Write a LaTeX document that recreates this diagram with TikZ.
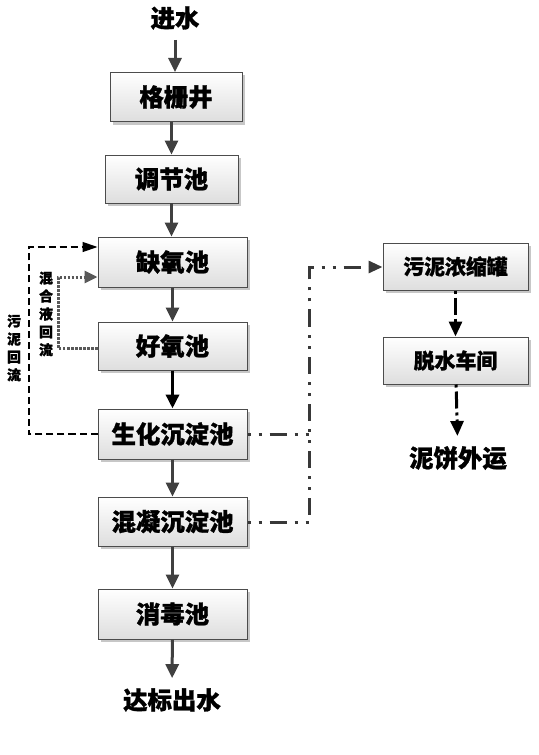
\documentclass[tikz,border=0pt]{standalone}
\usepackage{fontspec}
\newfontfamily\cjk{Noto Sans CJK SC}[BoldFeatures={FakeBold=1.2}]
\usepackage{tikz}
\usetikzlibrary{arrows.meta,shadows}

\tikzset{
  pool/.style={draw=black!70, line width=1bp, top color=white, bottom color=black!13,
    drop shadow={shadow xshift=3bp, shadow yshift=-3bp, fill=black!22, opacity=1},
    minimum width=149bp, minimum height=49bp, inner sep=0pt,
    font=\cjk\bfseries\fontsize{24.5}{24.5}\selectfont},
  tank/.style={pool, minimum width=145bp, minimum height=47bp, font=\cjk\bfseries\fontsize{21}{21}\selectfont},
  ends/.style={inner sep=10bp, font=\cjk\bfseries\fontsize{24.5}{24.5}\selectfont},
  side/.style={align=center, inner sep=0pt, font=\cjk\bfseries\fontsize{14}{18}\selectfont},
  flow/.style={draw=black!75, line width=3bp, -{Triangle[length=14bp, width=13bp]}},
  sludge/.style={draw=black!78, line width=3bp, dash pattern=on 17bp off 8bp on 3bp off 8bp on 3bp off 8bp, dash phase=25bp},
  cake/.style={draw=black, line width=3bp, dash pattern=on 3bp off 4bp on 17bp off 4bp, -{Triangle[length=15bp, width=13bp]}},
  retsl/.style={draw=black, line width=1.3bp, dash pattern=on 7bp off 4bp, -{Triangle[length=15bp, width=10bp]}},
  retml/.style={draw=black!65, line width=3bp, dash pattern=on 2.5bp off 1.5bp, -{Triangle[length=13bp, width=12bp]}}
}

\begin{document}
\begin{tikzpicture}[x=1bp, y=-1bp]
  \useasboundingbox (0,0) rectangle (539,755);
  % main line
  \node[ends] (in) at (175,18) {进水};
  \node[pool, minimum width=132bp] (gs) at (176,97) {格栅井};
  \node[pool, minimum width=133bp, minimum height=48bp] (tj) at (171.5,179) {调节池};
  \node[pool, minimum height=50bp] (qy) at (172.5,262) {缺氧池};
  \node[pool, minimum height=48bp] (hy) at (172.5,346) {好氧池};
  \node[pool, minimum height=50bp] (sh) at (172.5,434) {生化沉淀池};
  \node[pool] (hn) at (172.5,521.5) {混凝沉淀池};
  \node[pool, minimum height=50bp] (xd) at (172.5,614) {消毒池};
  \node[ends] (out) at (172,700) {达标出水};
  % sludge line
  \node[tank] (nsg) at (455.5,266.5) {污泥浓缩罐};
  \node[tank] (ts) at (455.5,360.5) {脱水车间};
  \node[ends] (nb) at (458,458) {泥饼外运};
  \node[side] (lsl) at (14,348) {污\\泥\\回\\流};
  \node[side] (lml) at (46,314) {混\\合\\液\\回\\流};

  \draw[flow] (in) -- (in |- gs.north);
  \draw[flow] (gs.south -| tj) -- (tj.north);
  \draw[flow] (tj) ++(0,24) -- (tj.south |- qy.north);
  \draw[flow] (qy) -- (hy);
  \draw[flow, draw=black, line width=3.4bp] (hy) -- (sh);
  \draw[flow] (sh) -- (hn);
  \draw[flow] (hn) -- (xd);
  \draw[flow] (xd) -- (out);

  \coordinate (jt) at (309,267);
  \coordinate (jb) at (309,522);
  \draw[sludge, -{Triangle[length=14bp, width=12bp]}] (hn.east |- jb) -- (jb) -- (jt) -- (nsg.west |- jt);
  \draw[sludge] (sh.east) -- (sh.east -| jt);
  \draw[cake] (nsg) -- (ts);
  \draw[cake] (ts) -- (nb);

  \coordinate (sl) at (29,247);
  \coordinate (ml) at (58,277);
  \draw[retsl] (sh.west) -| (sl) -- (qy.west |- sl);
  \draw[retml] (hy.west |- 0,348) -| (ml) -- (qy.west |- ml);
\end{tikzpicture}
\end{document}
